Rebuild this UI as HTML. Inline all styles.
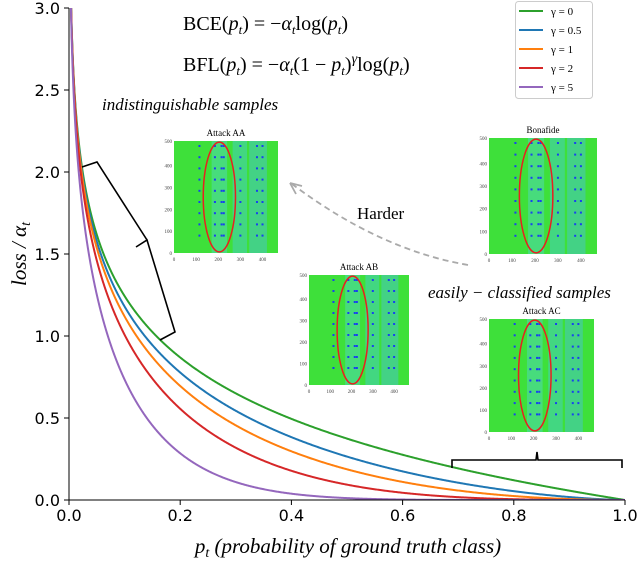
<!DOCTYPE html>
<html><head><meta charset="utf-8"><style>
body{margin:0;background:#fff}
svg{display:block;font-family:"Liberation Serif",serif}
</style></head><body>
<svg id="c" width="640" height="561" viewBox="0 0 640 561"></svg>
<script>
const gammas=[0,0.5,1,2,5];
const lossScale=[0.54];
const colors=['#2ca02c','#1f77b4','#ff7f0e','#d62728','#9467bd'];
const legendLabels=['γ = 0','γ = 0.5','γ = 1','γ = 2','γ = 5'];
const xTicks=[0,0.2,0.4,0.6,0.8,1.0];
const yTicks=[0,0.5,1.0,1.5,2.0,2.5,3.0];
const xTickLabels=['0.0','0.2','0.4','0.6','0.8','1.0'];
const yTickLabels=['0.0','0.5','1.0','1.5','2.0','2.5','3.0'];
const X0=69,X1=625,Y0=500,Y1=8;
const sx=v=>X0+(X1-X0)*v;
const sy=v=>Y0-(Y0-Y1)*v/3;
const NS='http://www.w3.org/2000/svg';
const svg=document.getElementById('c');
function mk(tag,attrs,parent){const e=document.createElementNS(NS,tag);for(const k in attrs)e.setAttribute(k,attrs[k]);(parent||svg).appendChild(e);return e;}
const defs=mk('defs',{});
const cp=mk('clipPath',{id:'plotclip'},defs);
mk('rect',{x:X0,y:Y1,width:X1-X0,height:Y0-Y1},cp);
const g=mk('g',{'clip-path':'url(#plotclip)'});
gammas.forEach((gm,i)=>{
  let d='';
  for(let k=0;k<=1000;k++){const p=Math.pow(k/1000,2)*0.9995+0.0004;const L=-lossScale[0]*Math.pow(1-p,gm)*Math.log(p);d+=(k==0?'M':'L')+sx(p).toFixed(2)+','+sy(Math.min(L,3.2)).toFixed(2);}
  const pa=mk('path',{d:d,fill:'none',stroke:colors[i],'stroke-width':2},g);
  
  
});
const ax=mk('g',{});

mk('line',{x1:X0,y1:Y1,x2:X0,y2:Y0,stroke:'#000','stroke-width':1},ax);
mk('line',{x1:X0,y1:Y0,x2:X1,y2:Y0,stroke:'#000','stroke-width':1},ax);
xTicks.forEach((v,i)=>{mk('line',{x1:sx(v),y1:Y0,x2:sx(v),y2:Y0+5,stroke:'#000'},ax);
  const t=mk('text',{x:sx(v),y:Y0+21,'text-anchor':'middle','font-size':16,'font-family':'DejaVu Sans, sans-serif'},ax);t.textContent=xTickLabels[i];
  });
yTicks.forEach((v,i)=>{mk('line',{x1:X0-5,y1:sy(v),x2:X0,y2:sy(v),stroke:'#000'},ax);
  const t=mk('text',{x:X0-9,y:sy(v)+6,'text-anchor':'end','font-size':16,'font-family':'DejaVu Sans, sans-serif'},ax);t.textContent=yTickLabels[i];
  });
const lg=mk('g',{});

mk('rect',{x:515.5,y:1.5,width:77,height:97,rx:3,fill:'#fff',stroke:'#ccc'},lg);
legendLabels.forEach((l,i)=>{const y=11+i*19;
  mk('line',{x1:519,y1:y,x2:543,y2:y,stroke:colors[i],'stroke-width':2},lg);
  const t=mk('text',{x:551,y:y+4,'font-size':11},lg);t.textContent=l;
  });
function inset(x,y,w,h,title,name){
  const gi=mk('g',{});
  mk('rect',{x:x,y:y,width:w,height:h,fill:'#3ee03a'},gi);
  const fx=v=>x+w*v/470;
  [[170,240,'#4fd8a8'],[265,330,'#46d0b0'],[340,420,'#48c8b8']].forEach(s=>mk('rect',{x:fx(s[0]),y:y,width:fx(s[1])-fx(s[0]),height:h,fill:s[2],opacity:0.6},gi));
  [115,185,215,225,300,375,400].forEach(c=>{for(let r=0;r<9;r++)mk('rect',{x:fx(c)-1,y:y+4+r*h/10,width:2,height:2,fill:'#1840f0'},gi);});
  mk('ellipse',{cx:fx(205),cy:y+h/2,rx:w*0.155,ry:h*0.49,fill:'none',stroke:'#e82020','stroke-width':1.5},gi);
  const t=mk('text',{x:x+w/2,y:y-5,'text-anchor':'middle','font-size':9},gi);t.textContent=title;
  [0,100,200,300,400].forEach(v=>{const a=mk('text',{x:fx(v),y:y+h+8,'text-anchor':'middle','font-size':5,fill:'#444'},gi);a.textContent=v;
    const b=mk('text',{x:x-2,y:y+h-h*v/512+2,'text-anchor':'end','font-size':5,fill:'#444'},gi);b.textContent=v;});
  const b=mk('text',{x:x-2,y:y+2,'text-anchor':'end','font-size':5,fill:'#444'},gi);b.textContent=500;
}
inset(174,141,104,112,'Attack AA','inset-attack-aa');
inset(489,138,108,116,'Bonafide','inset-bonafide');
inset(309,275,100,110,'Attack AB','inset-attack-ab');
inset(489,319,105,113,'Attack AC','inset-attack-ac');
</script>
<svg width="640" height="561" style="position:absolute;left:0;top:0">
<text x="183" y="30" font-size="20" font-family="Liberation Serif,serif">BCE(<tspan font-style="italic">p<tspan font-size="13" dy="4">t</tspan></tspan><tspan dy="-4">) = −</tspan><tspan font-style="italic">α<tspan font-size="13" dy="4">t</tspan></tspan><tspan dy="-4">log(</tspan><tspan font-style="italic">p<tspan font-size="13" dy="4">t</tspan></tspan><tspan dy="-4">)</tspan></text>
<text x="183" y="71" font-size="20" font-family="Liberation Serif,serif">BFL(<tspan font-style="italic">p<tspan font-size="13" dy="4">t</tspan></tspan><tspan dy="-4">) = −</tspan><tspan font-style="italic">α<tspan font-size="13" dy="4">t</tspan></tspan><tspan dy="-4">(1 − </tspan><tspan font-style="italic">p<tspan font-size="13" dy="4">t</tspan></tspan><tspan dy="-4">)</tspan><tspan font-style="italic" font-size="14" dy="-8">γ</tspan><tspan dy="8">log(</tspan><tspan font-style="italic">p<tspan font-size="13" dy="4">t</tspan></tspan><tspan dy="-4">)</tspan></text>
<text x="102" y="110" font-size="17" font-style="italic" font-family="Liberation Serif,serif">indistinguishable samples</text>
<text x="428" y="298" font-size="17" font-style="italic" font-family="Liberation Serif,serif">easily − classified samples</text>
<text x="357" y="219" font-size="17" font-family="Liberation Serif,serif">Harder</text>
<path d="M468,265 Q380,250 292,184" fill="none" stroke="#aaa" stroke-width="1.8" stroke-dasharray="6,4"/>
<path d="M290,183 L302,186 M290,183 L296,194" stroke="#aaa" stroke-width="1.8" fill="none"/>
<path d="M82,167 L97,162 L147,240 L136,247 L147,240 L175,332 L160,340" fill="none" stroke="#000" stroke-width="1.6"/>
<path d="M452,468 L452,460 L536,460 L537,452 L538,460 L622,460 L622,468" fill="none" stroke="#000" stroke-width="1.6"/>
<text x="348" y="553" text-anchor="middle" font-size="21" font-style="italic" font-family="Liberation Serif,serif">p<tspan font-size="14" dy="4">t</tspan><tspan dy="-4"> (probability of ground truth class)</tspan></text>
<text transform="translate(26,254) rotate(-90)" text-anchor="middle" font-size="21" font-style="italic" font-family="Liberation Serif,serif">loss / α<tspan font-size="14" dy="4">t</tspan></text>
</svg>
</body></html>
